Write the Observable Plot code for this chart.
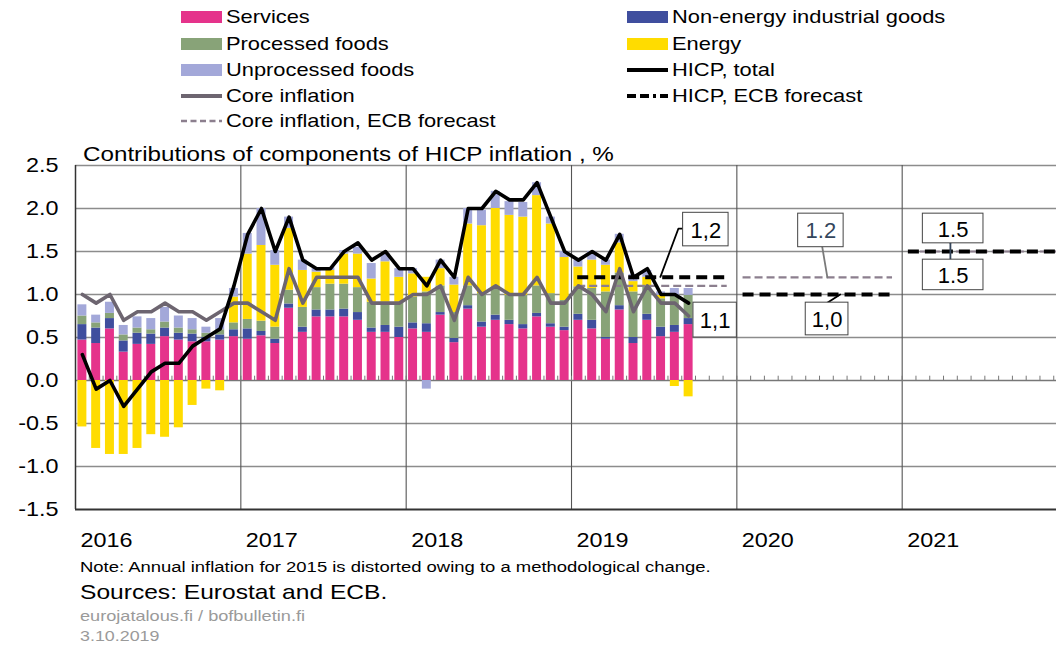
<!DOCTYPE html>
<html><head><meta charset="utf-8">
<script src="https://cdn.jsdelivr.net/npm/d3@7"></script>
<script src="https://cdn.jsdelivr.net/npm/@observablehq/plot@0.6"></script>
<style>
body{margin:0;background:#fff;font-family:"Liberation Sans",Arial,sans-serif;width:1056px;height:649px;overflow:hidden;position:relative;color:#000}
.lg{position:absolute;height:26px;display:flex;align-items:center;font-size:19px;white-space:nowrap}
.lg svg{margin-right:4px;flex:none}
.lg span{display:inline-block;transform:scaleX(1.15);transform-origin:left center}
#chart{position:absolute;left:0;top:140px;z-index:1}
.abs{position:absolute;white-space:nowrap;transform-origin:left center;z-index:2}
</style></head>
<body>
<div id="legend"></div>
<div id="chart"></div>
<div class="abs" style="left:83px;top:143px;font-size:20px;transform:scaleX(1.21)">Contributions of components of HICP inflation , %</div>
<div class="abs" style="left:80px;top:558px;font-size:15.5px;transform:scaleX(1.19)">Note: Annual inflation for 2015 is distorted owing to a methodological change.</div>
<div class="abs" style="left:80px;top:580px;font-size:21px;transform:scaleX(1.17)">Sources: Eurostat and ECB.</div>
<div class="abs" style="left:80px;top:607px;font-size:15px;color:#9a9a9a;transform:scaleX(1.21)">eurojatalous.fi / bofbulletin.fi</div>
<div class="abs" style="left:80px;top:627px;font-size:15px;color:#9a9a9a;transform:scaleX(1.19)">3.10.2019</div>
<script>
// ---- data (Jan 2016 ... Sep 2019, monthly, percentage-point contributions) ----
const components = ["Services", "Non-energy industrial goods", "Processed foods", "Energy", "Unprocessed foods"];
const services = [
  .47,.43,.60,.33,.42,.42,.51,.47,.45,.45,.47,.51,
  .48,.52,.43,.84,.56,.74,.74,.74,.70,.56,.56,.50,
  .60,.56,.76,.44,.83,.62,.70,.65,.60,.74,.62,.58,
  .70,.60,.48,.82,.43,.70,.51,.56,.65];
const neig = [
  .18,.18,.12,.13,.13,.12,.10,.08,.09,.05,.06,.08,
  .12,.05,.05,.05,.06,.08,.08,.09,.09,.05,.08,.12,
  .07,.10,.03,.05,.04,.06,.06,.05,.05,.04,.04,.04,
  .07,.10,.02,.05,.07,.07,.11,.08,.07];
const processedFoods = [
  .10,.06,.06,.07,.06,.05,.07,.06,.05,.05,.06,.08,
  .11,.12,.14,.16,.23,.26,.30,.29,.29,.30,.27,.29,
  .30,.37,.31,.30,.23,.33,.31,.29,.34,.32,.35,.31,
  .32,.37,.53,.38,.53,.33,.33,.35,.27];
const energy = [
  -.54,-.79,-.86,-.86,-.79,-.63,-.66,-.55,-.29,-.10,-.12,.30,
  .76,.88,.72,.72,.43,.18,.16,.35,.39,.27,.47,.29,
  .27,.17,.20,.32,.72,.79,.93,.93,.91,1.05,.81,.50,
  .23,.33,.31,.35,.12,.10,.04,-.07,-.19];
const unprocessedFoods = [
  .13,.09,.13,.11,.13,.13,.17,.14,.13,.07,.13,.10,
  .24,.43,.17,.13,.12,.04,.03,.04,.08,.18,.10,.10,
  .06,-.10,.10,.09,.18,.18,.20,.16,.17,.15,.08,.07,
  .08,.10,.06,.10,.08,.08,.04,.08,.08];
const hicpTotal = [
  .3,-.1,0,-.3,-.1,.1,.2,.2,.4,.5,.6,1.1,
  1.7,2.0,1.5,1.9,1.4,1.3,1.3,1.5,1.6,1.4,1.5,1.3,
  1.3,1.1,1.4,1.2,2.0,2.0,2.2,2.1,2.1,2.3,1.9,1.5,
  1.4,1.5,1.4,1.7,1.2,1.3,1.0,1.0,0.9];
const coreInflation = [
  1.0,.9,1.0,.7,.8,.8,.9,.8,.8,.7,.8,.9,
  .9,.8,.7,1.3,.9,1.2,1.2,1.2,1.2,.9,.9,.9,
  1.0,1.0,1.1,.7,1.2,1.0,1.1,1.0,1.0,1.2,.9,.9,
  1.1,1.0,.8,1.3,.8,1.1,.9,.9,.75];
const forecastYears = [2019, 2020, 2021];
const hicpForecast = [1.2, 1.0, 1.5];
const coreForecast = [1.1, 1.2, 1.5];
const yearLabels = [2016, 2017, 2018, 2019, 2020, 2021];
const yTicks = [-1.5, -1.0, -0.5, 0.0, 0.5, 1.0, 1.5, 2.0, 2.5];
const startYear = 2016;

// ---- styling ----
const compColors = ["#e5338b", "#3f4e9e", "#88a378", "#ffdc00", "#a3a8d9"];
const coreColor = "#6d6570";
const coreFcColor = "#8c7f8e";

// ---- legend ----
const legendLeft = ["Services", "Processed foods", "Unprocessed foods", "Core inflation", "Core inflation, ECB forecast"];
const legendRight = ["Non-energy industrial goods", "Energy", "HICP, total", "HICP, ECB forecast"];
function swatch(label) {
  const i = components.indexOf(label);
  if (i >= 0) return `<svg width="41" height="14"><rect x="0" y="1" width="41" height="12" fill="${compColors[i]}"/></svg>`;
  if (label === "Core inflation") return `<svg width="41" height="14"><line x1="0" x2="41" y1="7" y2="7" stroke="${coreColor}" stroke-width="4"/></svg>`;
  if (label === "HICP, total") return `<svg width="41" height="14"><line x1="0" x2="41" y1="7" y2="7" stroke="#000" stroke-width="4"/></svg>`;
  if (label === "HICP, ECB forecast") return `<svg width="41" height="14"><line x1="0" x2="41" y1="7" y2="7" stroke="#000" stroke-width="4" stroke-dasharray="9,4,9,4,3,4"/></svg>`;
  return `<svg width="41" height="14"><line x1="0" x2="41" y1="7" y2="7" stroke="${coreFcColor}" stroke-width="2.5" stroke-dasharray="6,3.5"/></svg>`;
}
const lg = document.getElementById("legend");
const rowY = [17, 44, 70, 96, 121];
legendLeft.forEach((l, r) => lg.insertAdjacentHTML("beforeend",
  `<div class="lg" style="left:181px;top:${rowY[r] - 13}px">${swatch(l)}<span>${l}</span></div>`));
legendRight.forEach((l, r) => lg.insertAdjacentHTML("beforeend",
  `<div class="lg" style="left:627px;top:${rowY[r] - 13}px">${swatch(l)}<span>${l}</span></div>`));

// ---- tables ----
const series = [services, neig, processedFoods, energy, unprocessedFoods];
const months = d3.range(hicpTotal.length);
const bars = months.flatMap(m => components.map((c, k) => ({m, comp: c, v: series[k][m]})));
const fc = forecastYears.map((yr, i) => ({s: (yr - startYear) * 12, hicp: hicpForecast[i], core: coreForecast[i]}));

// annotation boxes (data coordinates)
const annBoxes = [
  {t: "1,2", x1: 44.1, x2: 47.4, y1: 1.56, y2: 1.95, c: "#000"},
  {t: "1,1", x1: 44.85, x2: 48.0, y1: 0.5, y2: 0.905, c: "#000"},
  {t: "1.2", x1: 52.45, x2: 55.75, y1: 1.55, y2: 1.94, c: "#34465c"},
  {t: "1,0", x1: 53.0, x2: 56.1, y1: 0.525, y2: 0.905, c: "#000"},
  {t: "1.5", x1: 61.5, x2: 65.9, y1: 1.595, y2: 1.94, c: "#000"},
  {t: "1.5", x1: 61.5, x2: 65.9, y1: 1.05, y2: 1.405, c: "#000"}
];
const leaders = [
  {id: "a", pts: [[44.1, 1.767], [43.76, 1.767], [42.45, 1.205]], c: "#000"},
  {id: "b", pts: [[54.2, 1.55], [54.57, 1.2]], c: "#7a7a7a"},
  {id: "c", pts: [[54.57, 0.905], [55.5, 1.0]], c: "#000"},
  {id: "d", pts: [[63.5, 1.595], [63.5, 1.405]], c: "#34465c"}
].flatMap(l => l.pts.map(p => ({id: l.id, x: p[0], y: p[1], c: l.c})));

const chart = Plot.plot({
  width: 1056, height: 420,
  marginLeft: 75, marginRight: 0, marginTop: 25, marginBottom: 51,
  x: {domain: [0, 71.2], axis: null},
  y: {domain: [-1.5, 2.5], axis: null},
  color: {domain: components, range: compColors},
  style: {fontFamily: "'Liberation Sans', Arial, sans-serif", background: "transparent", overflow: "visible"},
  marks: [
    Plot.ruleY(yTicks.filter(v => v > -1.5 && v !== 0), {stroke: "#8c8c8c", strokeWidth: 1.3}),
    Plot.ruleX(yearLabels.slice(1).map(y => (y - startYear) * 12), {stroke: "#555", strokeWidth: 1.1}),
    Plot.ruleY([0], {stroke: "#777", strokeWidth: 1.3}),
    Plot.ruleX(d3.range(1, 72), {x: d => d, y1: 0, y2: 0.05, stroke: "#777", strokeWidth: 1}),
    Plot.rectY(bars, {x1: "m", x2: d => d.m + 1, y: "v", fill: "comp", insetLeft: 2.4, insetRight: 2.4}),
    Plot.ruleX([0], {stroke: "#333", strokeWidth: 1.5}),
    Plot.ruleY([-1.5], {stroke: "#333", strokeWidth: 2}),
    // forecasts
    Plot.ruleY(fc, {y: "core", x1: d => d.s + 0.45, x2: d => d.s + 11.3, stroke: coreFcColor, strokeWidth: 2.2, strokeDasharray: "8,4"}),
    Plot.ruleY(fc, {y: "hicp", x1: d => d.s + 0.45, x2: d => d.s + 11.3, stroke: "#000", strokeWidth: 4, strokeDasharray: "11,6"}),
    // lines
    Plot.line(months, {x: m => m + 0.5, y: m => coreInflation[m], stroke: coreColor, strokeWidth: 3.6}),
    Plot.line(months, {x: m => m + 0.5, y: m => hicpTotal[m], stroke: "#000", strokeWidth: 3.6}),
    // annotations
    Plot.line(leaders, {x: "x", y: "y", z: "id", stroke: "c", strokeWidth: 1.8}),
    Plot.rect(annBoxes, {x1: "x1", x2: "x2", y1: "y1", y2: "y2", fill: "#fff", stroke: "#444", strokeWidth: 1}),
    Plot.text(annBoxes, {x: d => (d.x1 + d.x2) / 2, y: d => (d.y1 + d.y2) / 2, text: "t", fill: "c", fontSize: 22, dy: 1}),
    // axes labels
    Plot.text(yTicks, {x: 0, y: d => d, text: d => d.toFixed(1), textAnchor: "end", dx: -17, fontSize: 20, fill: "#000"}),
    Plot.text(yearLabels, {x: d => (d - startYear) * 12, y: -1.5, text: d => String(d), textAnchor: "start", dx: 5, dy: 31, fontSize: 20, fill: "#000"})
  ]
});
document.getElementById("chart").appendChild(chart);

// the reference's lettering is horizontally stretched: widen axis labels about their anchor
chart.querySelectorAll("text").forEach(t => {
  const anchor = getComputedStyle(t).textAnchor;
  if (anchor !== "end" && anchor !== "start") return;
  const g = document.createElementNS("http://www.w3.org/2000/svg", "g");
  t.parentNode.insertBefore(g, t);
  g.appendChild(t);
  const b = g.getBBox();
  const ax = anchor === "end" ? b.x + b.width : b.x;
  g.setAttribute("transform", `translate(${ax},0) scale(1.17,1) translate(${-ax},0)`);
});
</script>
</body></html>
